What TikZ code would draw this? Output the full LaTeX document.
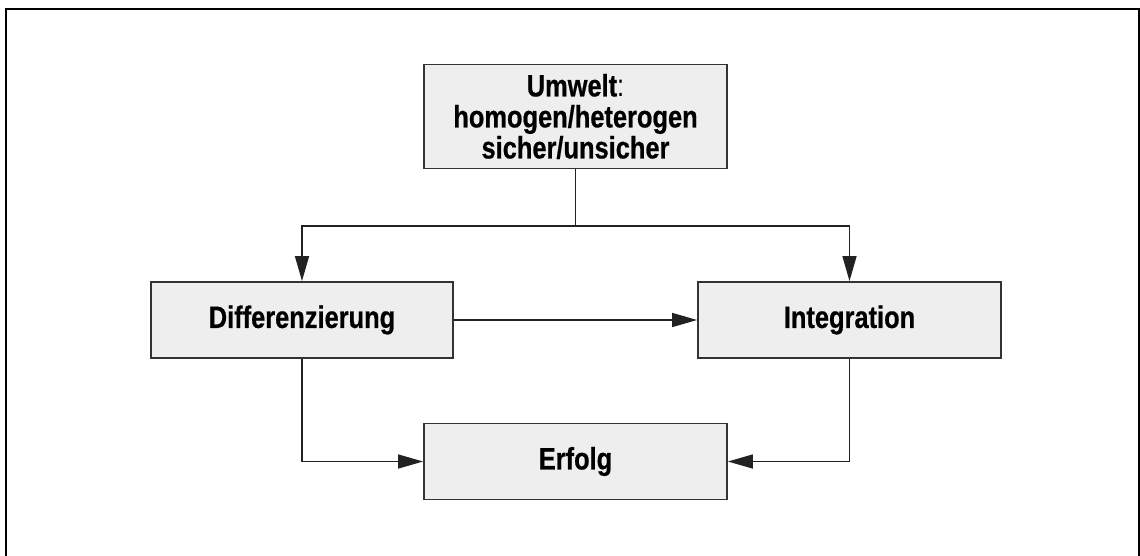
\documentclass[tikz,border=0pt]{standalone}
\usepackage{fontspec}
\setmainfont{Liberation Sans}[FakeStretch=0.82, BoldFeatures={FakeBold=0.6}]
\usetikzlibrary{arrows.meta}
\definecolor{boxfill}{HTML}{EEEEEE}
\definecolor{boxline}{HTML}{333333}
\definecolor{wire}{HTML}{222222}
\tikzset{
  frameline/.style={draw=black, line width=2pt},
  block/.style={draw=boxline, fill=boxfill, line width=1.8pt, rectangle,
    inner sep=0pt, align=center, text=black,
    font=\bfseries\fontsize{31}{31}\selectfont},
  wideblock/.style={block, minimum width=303pt, minimum height=76pt},
  wireline/.style={draw=wire, line width=1.4pt},
  wirearrow/.style={wireline, -{Triangle[length=25pt,width=14pt]}},
}
\begin{document}
\begin{tikzpicture}[x=1pt,y=-1pt]
\useasboundingbox (0,0) rectangle (1140,555);

% outer frame, open at the lower edge
\draw[frameline] (6,556) -- (6,9) -- (1139,9) -- (1139,556);

% blocks
\node[block, minimum width=303pt, minimum height=104pt] (umwelt) at (575.5,116.5)
  {Umwelt{\mdseries:}\\homogen/heterogen\\sicher/unsicher};
\node[wideblock, minimum width=302pt] (diff) at (302,320) {Differenzierung};
\node[wideblock] (integ) at (849.5,320) {Integration};
\node[wideblock] (erfolg) at (575.5,461.5) {Erfolg};

% connectors
\coordinate (fork) at (575.5,226);
\draw[wireline] (umwelt.south) -- (fork);
\draw[wirearrow] (fork) -| (diff.north);
\draw[wirearrow] (fork) -| (integ.north);
\draw[wirearrow] (diff.east) -- (integ.west);
\draw[wirearrow] (diff.south) |- (erfolg.west);
\draw[wirearrow] (integ.south) |- (erfolg.east);
\end{tikzpicture}
\end{document}
